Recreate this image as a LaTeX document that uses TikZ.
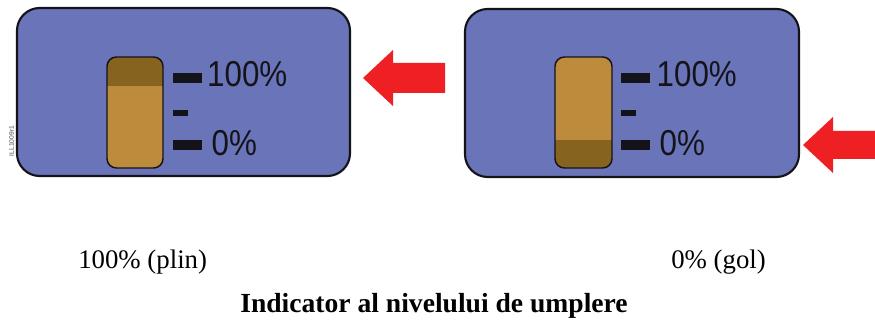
\documentclass[tikz,border=0pt]{standalone}
\usepackage{fontspec}
\setmainfont{Liberation Serif}
\setsansfont{Liberation Sans}
\definecolor{panelblue}{HTML}{6A74B8}
\definecolor{gaugelight}{HTML}{BC8C3C}
\definecolor{gaugedark}{HTML}{86631F}
\definecolor{arrowred}{HTML}{EE2024}
\definecolor{inkblack}{HTML}{15131A}
\tikzset{
  panel/.style={draw=inkblack,line width=1.6pt,fill=panelblue,rounded corners=17pt},
  gaugeframe/.style={draw=inkblack,line width=1.1pt,rounded corners=7pt},
  tickmark/.style={fill=inkblack},
  redarrow/.style={fill=arrowred},
  gaugetext/.style={font=\sffamily\fontsize{27}{27}\selectfont,text=inkblack,inner sep=0pt,anchor=base west,xscale=0.87},
  caption/.style={font=\fontsize{20.1}{24}\selectfont,text=black,inner sep=0pt,anchor=base west}
}
\begin{document}
\begin{tikzpicture}[x=0.75pt,y=-0.75pt]
\useasboundingbox (0,0) rectangle (875,320);
\fill[white] (0,0) rectangle (875,320);
% left panel
\draw[panel] (17,8) rectangle (350,176);
\begin{scope}
\clip[rounded corners=7pt] (107,57) rectangle (163,168);
\fill[gaugelight] (107,57) rectangle (163,168);
\fill[gaugedark] (107,57) rectangle (163,86);
\end{scope}
\draw[gaugeframe] (107,57) rectangle (163,168);
\fill[tickmark] (173,73) rectangle (202,83);
\fill[tickmark] (173,110) rectangle (188,116);
\fill[tickmark] (173,140) rectangle (202,150);
\node[gaugetext] (lfull) at (207,87) {100\%};
\node[gaugetext] (lempty) at (211.5,156) {0\%};
\node[font=\sffamily\fontsize{5}{5}\selectfont,text=black!70,rotate=90,inner sep=0pt] (lcode) at (11.5,141) {ILL1009r1};
% right panel
\draw[panel] (465,9) rectangle (799,177);
\begin{scope}
\clip[rounded corners=7pt] (555,57) rectangle (612,168);
\fill[gaugelight] (555,57) rectangle (612,168);
\fill[gaugedark] (555,140) rectangle (612,168);
\end{scope}
\draw[gaugeframe] (555,57) rectangle (612,168);
\fill[tickmark] (621,73) rectangle (650,83);
\fill[tickmark] (621,110) rectangle (636,116);
\fill[tickmark] (621,140) rectangle (650,150);
\node[gaugetext] (rfull) at (656.5,87) {100\%};
\node[gaugetext] (rempty) at (659.5,156) {0\%};
% arrows
\fill[redarrow] (363,78) -- (393,50) -- (393,63) -- (445,63) -- (445,93) -- (393,93) -- (393,106) -- cycle;
\fill[redarrow] (803,145) -- (833,117) -- (833,131) -- (875,131) -- (875,159) -- (833,159) -- (833,173) -- cycle;
% captions
\node[caption] (capl) at (78,269) {100\% (plin)};
\node[caption] (capr) at (671,269) {0\% (gol)};
\node[caption,font=\bfseries\fontsize{20.7}{24}\selectfont] (title) at (240,313) {Indicator al nivelului de umplere};
\end{tikzpicture}
\end{document}
